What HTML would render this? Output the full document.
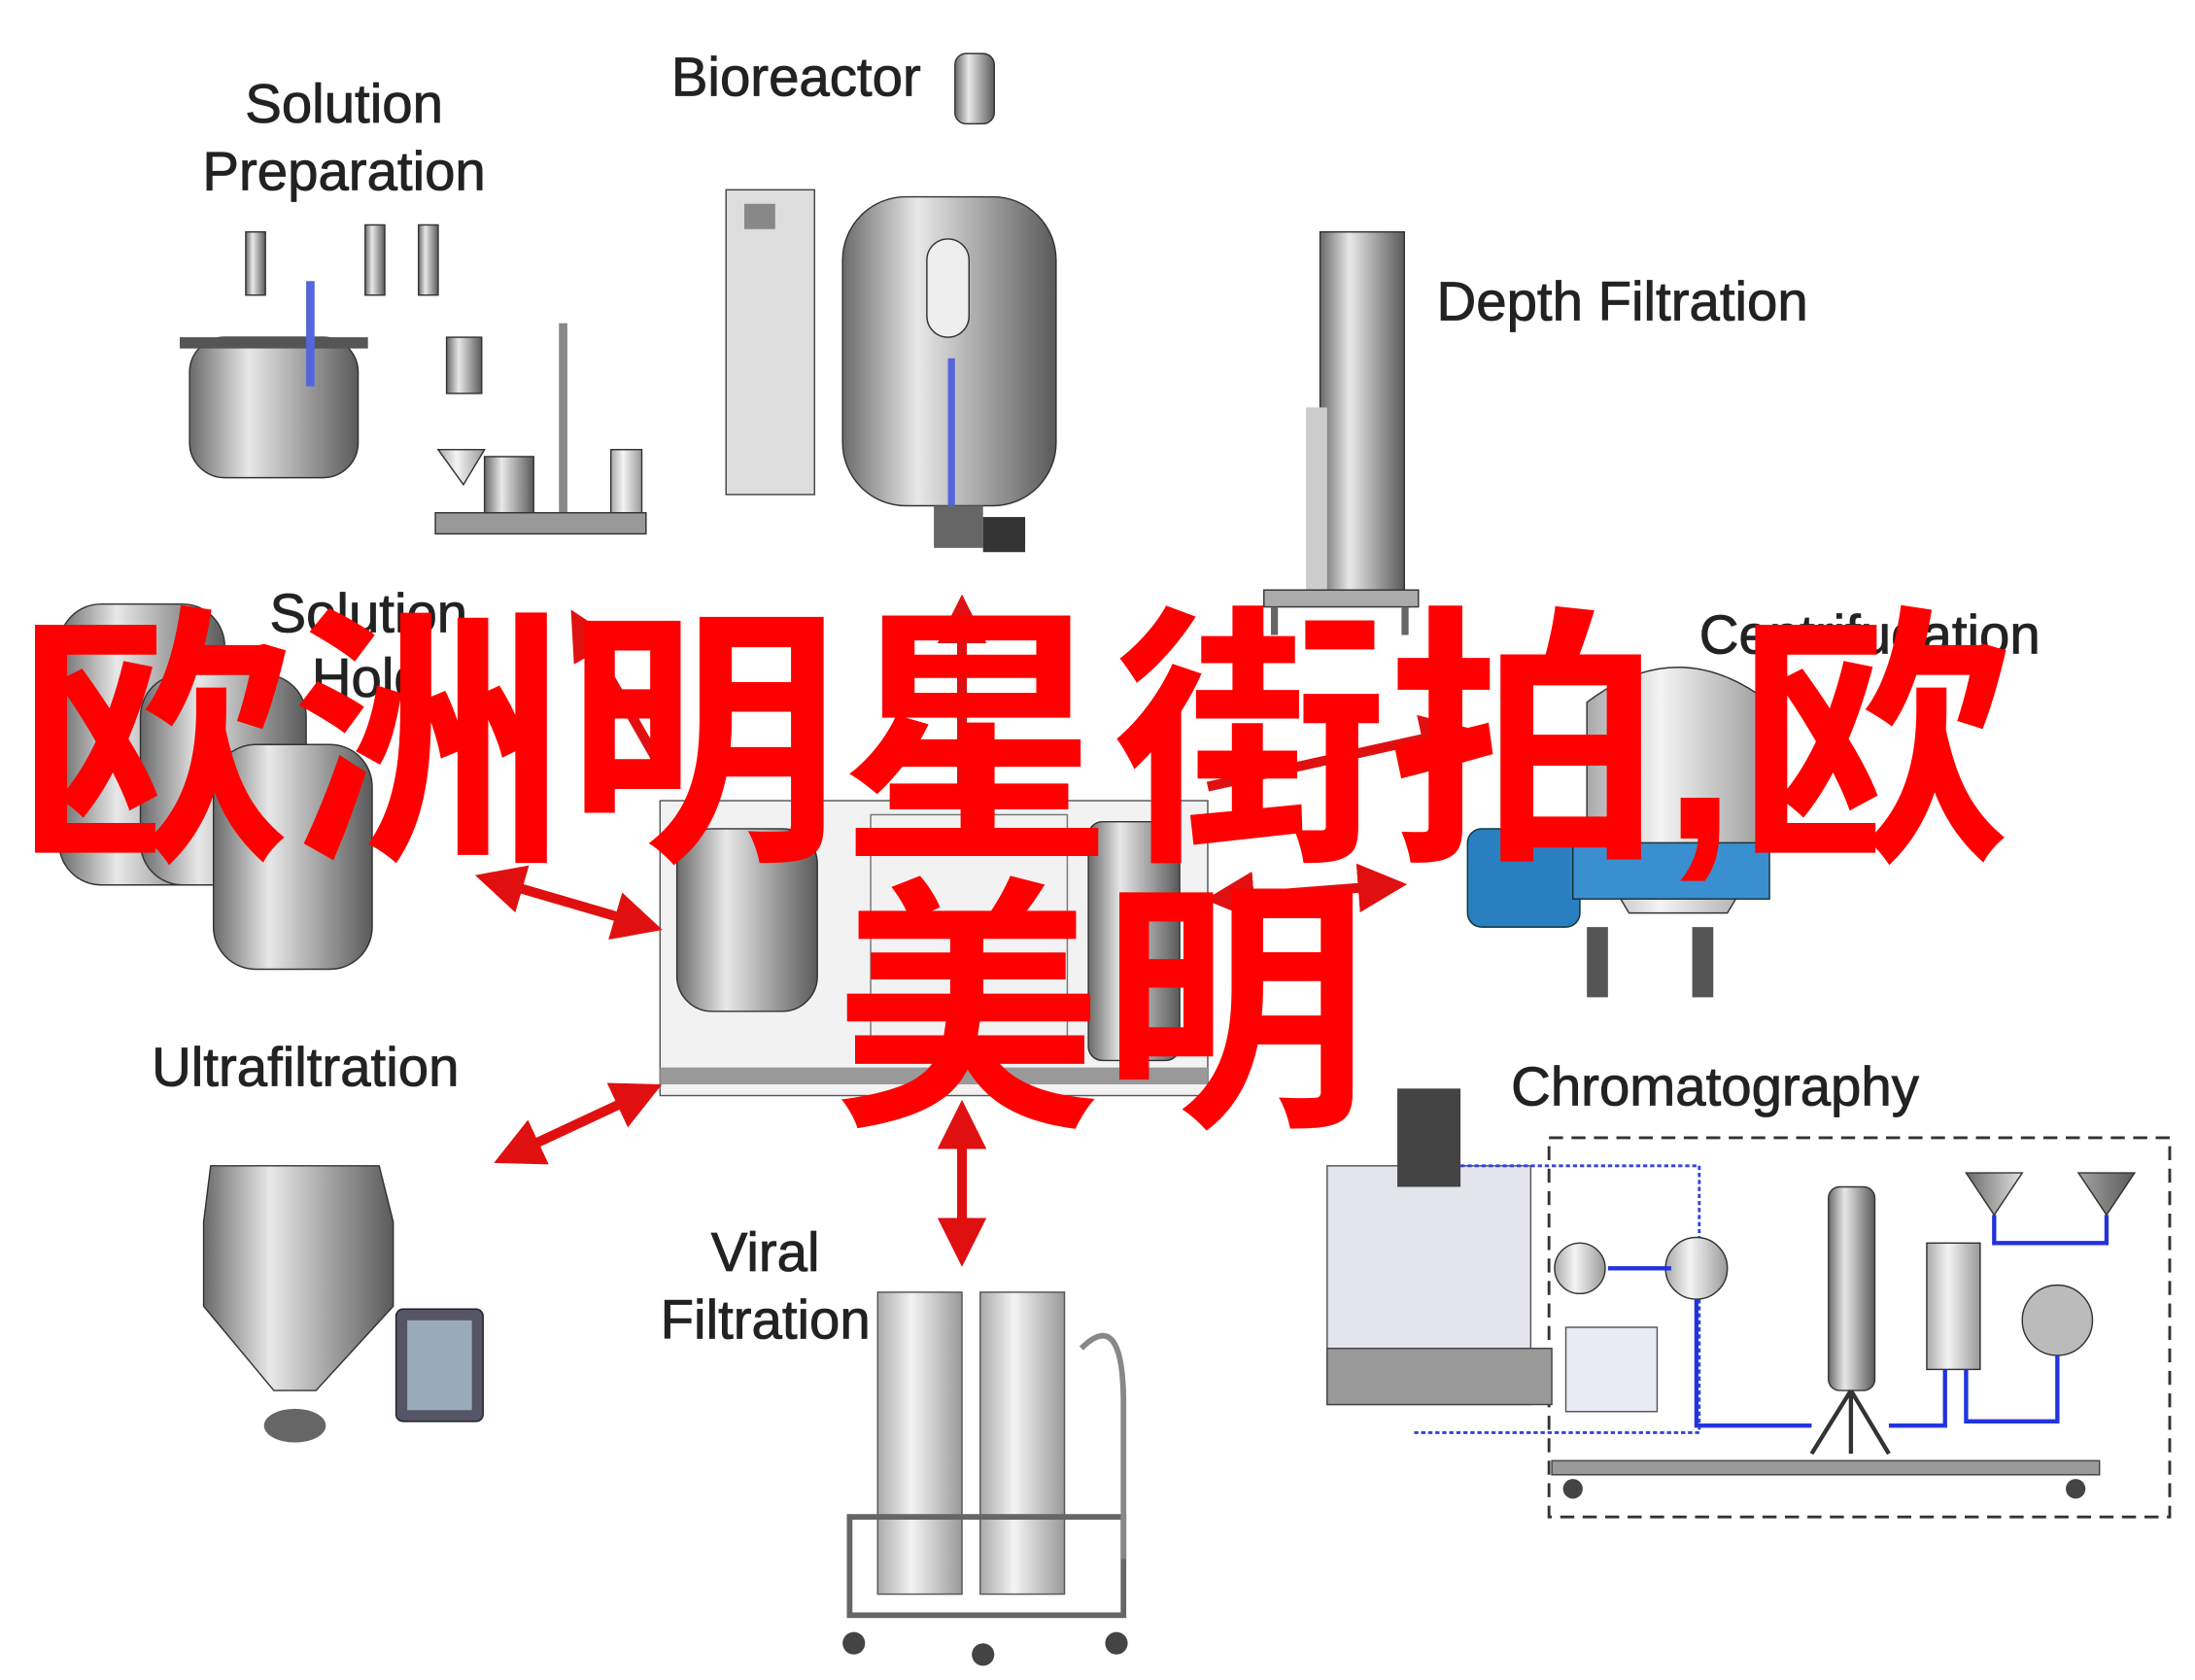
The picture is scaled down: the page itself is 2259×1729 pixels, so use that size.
<!DOCTYPE html>
<html><head><meta charset="utf-8"><style>
html,body{margin:0;padding:0;background:#fff;}
body{width:2259px;height:1729px;overflow:hidden;position:relative;}
svg{position:absolute;left:0;top:0;}
.lbl{font-family:"Liberation Sans",sans-serif;font-size:39px;fill:#222;stroke:#222;stroke-width:0.6;}
.red{position:absolute;font-family:"Liberation Sans","Noto Sans CJK SC",sans-serif;color:#ff0000;font-weight:bold;white-space:nowrap;line-height:1;}
</style></head><body>
<svg width="2259" height="1729" viewBox="0 0 1563 1196">
<defs>
<linearGradient id="g" x1="0" x2="1"><stop offset="0" stop-color="#6a6a6a"/><stop offset=".35" stop-color="#e8e8e8"/><stop offset="1" stop-color="#5a5a5a"/></linearGradient>
<linearGradient id="gl" x1="0" x2="1"><stop offset="0" stop-color="#aaa"/><stop offset=".4" stop-color="#f4f4f4"/><stop offset="1" stop-color="#999"/></linearGradient>
<marker id="ah" viewBox="0 0 10 10" refX="8" refY="5" markerWidth="5" markerHeight="5" orient="auto-start-reverse"><path d="M0,0L10,5L0,10z" fill="#e01010"/></marker>
</defs>
<rect x="135" y="240" width="120" height="100" rx="25" fill="url(#g)" stroke="#333"/>
<rect x="128" y="240" width="134" height="8" fill="#555"/>
<rect x="175" y="165" width="14" height="45" fill="url(#g)" stroke="#333"/>
<rect x="260" y="160" width="14" height="50" fill="url(#g)" stroke="#333"/>
<rect x="298" y="160" width="14" height="50" fill="url(#g)" stroke="#333"/>
<rect x="218" y="200" width="6" height="75" fill="#5566dd"/>
<rect x="318" y="240" width="25" height="40" fill="url(#g)" stroke="#333"/>
<path d="M312 320 L345 320 L330 345 Z" fill="url(#gl)" stroke="#333"/>
<rect x="345" y="325" width="35" height="40" fill="url(#g)" stroke="#333"/>
<rect x="398" y="230" width="6" height="135" fill="#888"/>
<rect x="435" y="320" width="22" height="45" fill="url(#gl)" stroke="#333"/>
<rect x="310" y="365" width="150" height="15" fill="#999" stroke="#333"/>
<rect x="517" y="135" width="63" height="217" fill="#ddd" stroke="#444"/>
<rect x="530" y="145" width="22" height="18" fill="#888"/>
<rect x="600" y="140" width="152" height="220" rx="45" fill="url(#g)" stroke="#333"/>
<rect x="660" y="170" width="30" height="70" rx="15" fill="#eee" stroke="#333"/>
<rect x="675" y="255" width="5" height="110" fill="#5566dd"/>
<rect x="680" y="38" width="28" height="50" rx="8" fill="url(#g)" stroke="#333"/>
<rect x="665" y="360" width="35" height="30" fill="#666"/>
<rect x="700" y="368" width="30" height="25" fill="#333"/>
<rect x="940" y="165" width="60" height="265" fill="url(#g)" stroke="#333"/>
<rect x="930" y="290" width="15" height="130" fill="#ccc"/>
<rect x="900" y="420" width="110" height="12" fill="#aaa" stroke="#333"/>
<rect x="905" y="432" width="5" height="20" fill="#666"/><rect x="998" y="432" width="5" height="20" fill="#666"/>
<path d="M1130 500 Q1195 450 1260 500 L1260 600 L1230 650 L1160 650 L1130 600Z" fill="url(#gl)" stroke="#333"/>
<rect x="1045" y="590" width="80" height="70" rx="10" fill="#2a7fc0" stroke="#133"/>
<rect x="1120" y="600" width="140" height="40" fill="#3a8fd0" stroke="#133"/>
<rect x="1130" y="660" width="15" height="50" fill="#555"/><rect x="1205" y="660" width="15" height="50" fill="#555"/>
<rect x="42" y="430" width="118" height="200" rx="30" fill="url(#g)" stroke="#333"/>
<rect x="100" y="480" width="118" height="150" rx="30" fill="url(#g)" stroke="#333"/>
<rect x="152" y="530" width="113" height="160" rx="30" fill="url(#g)" stroke="#333"/>
<rect x="470" y="570" width="390" height="210" fill="#f2f2f2" stroke="#555"/>
<rect x="482" y="590" width="100" height="130" rx="25" fill="url(#g)" stroke="#333"/>
<rect x="775" y="585" width="65" height="170" rx="10" fill="url(#g)" stroke="#333"/>
<rect x="620" y="580" width="140" height="160" fill="none" stroke="#777"/>
<rect x="470" y="760" width="390" height="12" fill="#999"/>
<path d="M150 830 L270 830 L280 870 L280 930 L225 990 L195 990 L145 930 L145 870Z" fill="url(#g)" stroke="#333"/>
<rect x="282" y="932" width="62" height="80" rx="5" fill="#556" stroke="#222"/>
<rect x="290" y="940" width="46" height="64" fill="#9ab"/>
<ellipse cx="210" cy="1015" rx="22" ry="12" fill="#666"/>
<rect x="625" y="920" width="60" height="215" fill="url(#gl)" stroke="#555"/>
<rect x="698" y="920" width="60" height="215" fill="url(#gl)" stroke="#555"/>
<rect x="605" y="1080" width="195" height="70" fill="none" stroke="#666" stroke-width="4"/>
<path d="M770 960 Q800 930 800 1000 L800 1110" fill="none" stroke="#888" stroke-width="4"/>
<circle cx="608" cy="1170" r="8" fill="#444"/><circle cx="795" cy="1170" r="8" fill="#444"/><circle cx="700" cy="1178" r="8" fill="#444"/>
<rect x="1103" y="810" width="442" height="270" fill="none" stroke="#333" stroke-width="2" stroke-dasharray="10 6"/>
<rect x="945" y="830" width="145" height="170" fill="#e4e4ec" stroke="#555"/>
<rect x="995" y="775" width="45" height="70" fill="#444"/>
<rect x="945" y="960" width="160" height="40" fill="#999" stroke="#444"/>
<path d="M1040 830 L1210 830 L1210 1020 L1005 1020" fill="none" stroke="#3344dd" stroke-width="2" stroke-dasharray="3 2"/>
<circle cx="1208" cy="903" r="22" fill="url(#gl)" stroke="#333"/>
<circle cx="1125" cy="903" r="18" fill="url(#gl)" stroke="#333"/>
<rect x="1115" y="945" width="65" height="60" fill="#e8eaf4" stroke="#555"/>
<rect x="1302" y="845" width="33" height="145" rx="8" fill="url(#g)" stroke="#333"/>
<path d="M1318 990 L1290 1035 M1318 990 L1345 1035 M1318 990 L1318 1035" stroke="#333" stroke-width="3"/>
<rect x="1372" y="885" width="38" height="90" fill="url(#gl)" stroke="#333"/>
<circle cx="1465" cy="940" r="25" fill="#bbb" stroke="#333"/>
<path d="M1400 835 L1440 835 L1420 865Z M1480 835 L1520 835 L1500 865Z" fill="url(#g)" stroke="#333"/>
<path d="M1145 903 L1190 903 M1208 925 L1208 1015 L1290 1015 M1345 1015 L1385 1015 L1385 975 M1400 975 L1400 1012 L1465 1012 L1465 965 M1420 865 L1420 885 L1500 885 L1500 865" fill="none" stroke="#2233dd" stroke-width="3"/>
<rect x="1105" y="1040" width="390" height="10" fill="#999" stroke="#444"/>
<circle cx="1120" cy="1060" r="7" fill="#444"/><circle cx="1478" cy="1060" r="7" fill="#444"/>
<g stroke="#e01010" stroke-width="7" fill="none" marker-start="url(#ah)" marker-end="url(#ah)">
<line x1="685" y1="560" x2="685" y2="430" marker-start="none"/>
<line x1="465" y1="660" x2="345" y2="625"/>
<line x1="465" y1="775" x2="358" y2="825"/>
<line x1="685" y1="790" x2="685" y2="895"/>
<line x1="865" y1="640" x2="995" y2="630"/>
<line x1="470" y1="545" x2="410" y2="440" marker-start="none"/>
<line x1="860" y1="560" x2="1040" y2="520" marker-start="none"/>
</g>
<text class="lbl" x="245" y="87" text-anchor="middle">Solution</text>
<text class="lbl" x="245" y="135" text-anchor="middle">Preparation</text>
<text class="lbl" x="478" y="68">Bioreactor</text>
<text class="lbl" x="1023" y="228">Depth Filtration</text>
<text class="lbl" x="1210" y="465">Centrifugation</text>
<text class="lbl" x="192" y="450">Solution</text>
<text class="lbl" x="222" y="496">Hold</text>
<text class="lbl" x="108" y="773">Ultrafiltration</text>
<text class="lbl" x="545" y="905" text-anchor="middle">Viral</text>
<text class="lbl" x="545" y="953" text-anchor="middle">Filtration</text>
<text class="lbl" x="1076" y="787">Chromatography</text>
</svg>
<div class="red" style="left:18px;top:625px;font-size:282px;">欧洲明星街拍,欧</div>
<div class="red" style="left:858px;top:905px;font-size:275px;">美明</div>
</body></html>
